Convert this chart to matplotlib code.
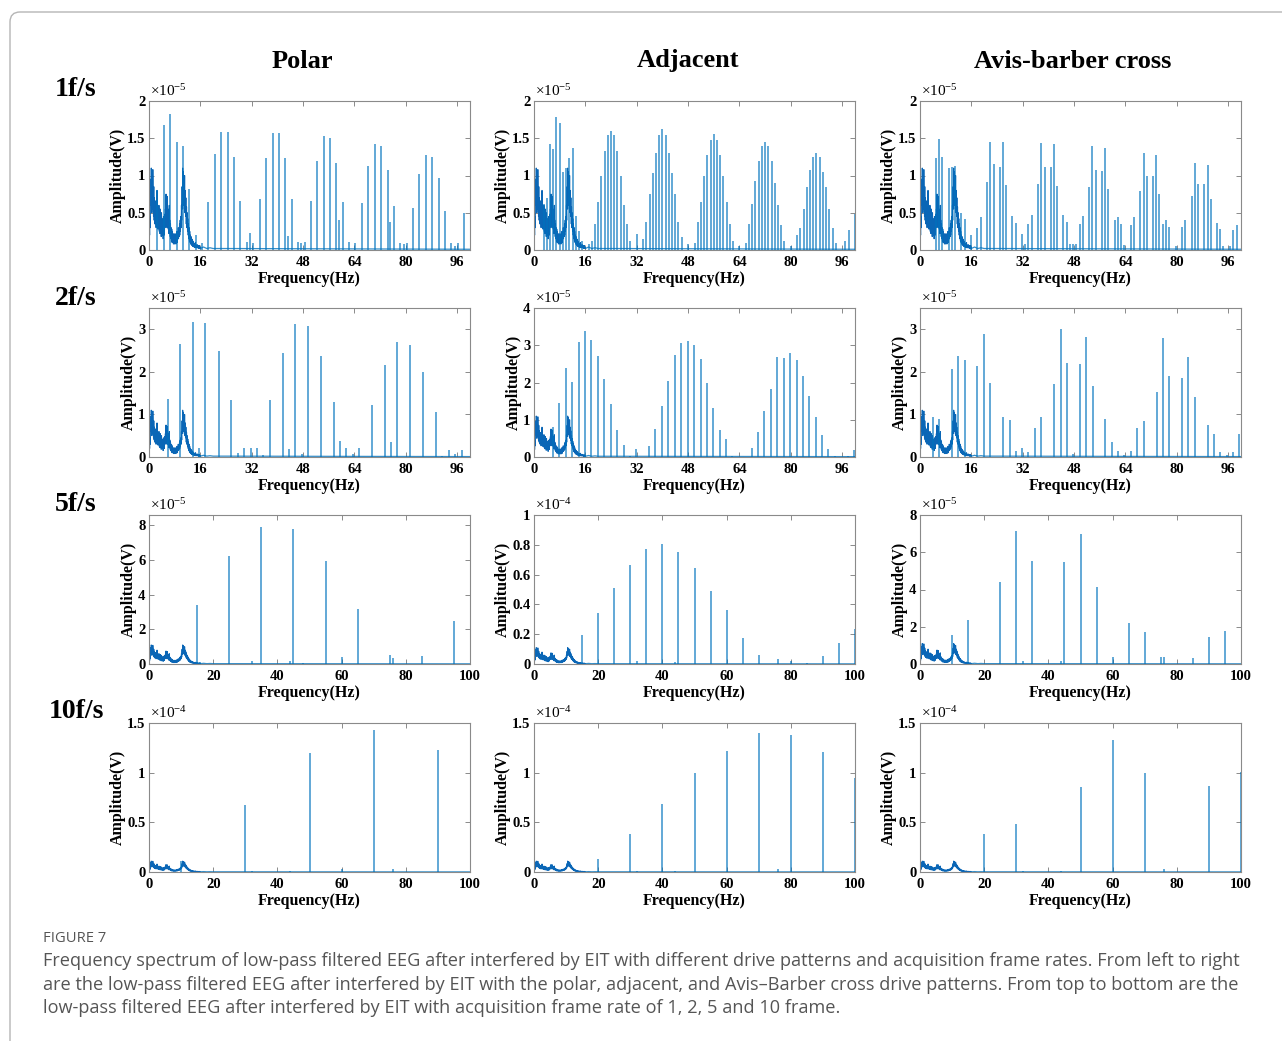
import numpy as np
import matplotlib
matplotlib.use("Agg")
import matplotlib.pyplot as plt
from matplotlib.patches import FancyBboxPatch
from matplotlib.transforms import IdentityTransform
from matplotlib.ticker import FuncFormatter

plt.rcParams['font.family'] = ['Liberation Serif', 'DejaVu Serif']
plt.rcParams['mathtext.fontset'] = 'custom'
plt.rcParams['mathtext.rm'] = 'Liberation Serif'
plt.rcParams['mathtext.it'] = 'Liberation Serif:italic'
plt.rcParams['mathtext.bf'] = 'Liberation Serif:bold'

# ---------------- data ----------------
col_titles = ["Polar", "Adjacent", "Avis-barber cross"]
row_titles = ["1f/s", "2f/s", "5f/s", "10f/s"]

# shared EEG background (units of 1e-5 V), sampled every 0.1 Hz from 0 to 16 Hz
eeg_base = [0.10,
            0.35, 0.20, 0.45, 0.30, 0.95, 0.60, 1.10, 0.75, 0.50, 0.95,
            0.55, 1.08, 0.70, 0.45, 0.85, 0.40, 0.70, 0.35, 0.62, 0.38,
            0.66, 0.30, 0.55, 0.42, 0.80, 0.35, 0.58, 0.28, 0.52, 0.30,
            0.60, 0.25, 0.48, 0.22, 0.55, 0.30, 0.45, 0.18, 0.50, 0.28,
            0.42, 0.20, 0.38, 0.15, 0.45, 0.25, 0.35, 0.20, 0.48, 0.30,
            0.55, 0.32, 0.75, 0.40, 0.62, 0.30, 0.72, 0.35, 0.55, 0.28,
            0.48, 0.22, 0.60, 0.25, 0.40, 0.18, 0.35, 0.15, 0.30, 0.12,
            0.28, 0.10, 0.25, 0.12, 0.22, 0.08, 0.20, 0.10, 0.18, 0.08,
            0.22, 0.10, 0.18, 0.08, 0.20, 0.12, 0.25, 0.10, 0.22, 0.15,
            0.30, 0.15, 0.28, 0.18, 0.35, 0.20, 0.40, 0.25, 0.45, 0.30,
            0.60, 0.40, 0.85, 0.55, 1.10, 0.70, 1.05, 0.60, 0.95, 0.55,
            1.00, 0.50, 0.80, 0.45, 0.70, 0.35, 0.58, 0.30, 0.50, 0.25,
            0.42, 0.20, 0.35, 0.15, 0.30, 0.12, 0.25, 0.10, 0.20, 0.08,
            0.18, 0.07, 0.15, 0.06, 0.14, 0.05, 0.12, 0.05, 0.10, 0.04,
            0.09, 0.04, 0.08, 0.03, 0.10, 0.04, 0.07, 0.03, 0.06, 0.03,
            0.07, 0.03, 0.06, 0.02, 0.05, 0.02, 0.06, 0.02, 0.04, 0.02]
eeg_step = 0.1
eeg_tail_f = [16.0, 17.0, 18.0, 19.0, 20.0, 24.0, 100.0]
eeg_tail_a = [0.02, 0.04, 0.02, 0.03, 0.02, 0.02, 0.01]

# 1 f/s (x1e-5)
polar_1_f = [2.6, 4.6, 6.6, 8.6, 10.6, 12.6, 14.6, 16.5, 18.5, 20.5, 22.5, 24.5, 26.5, 28.5,
             30.5, 31.5, 32.5, 34.5, 36.5, 38.5, 40.5, 42.5, 43.4, 44.5, 46.4, 47.5, 48.5,
             50.5, 52.4, 54.4, 56.4, 58.4, 59.3, 60.4, 62.4, 64.3, 66.4, 68.3, 70.3, 72.3,
             74.3, 75.2, 76.3, 78.2, 79.3, 80.3, 82.3, 84.2, 86.2, 88.2, 90.2, 92.2, 94.2,
             95.3, 96.2, 98.1]
polar_1_a = [0.80, 1.68, 1.82, 1.45, 1.40, 0.82, 0.20, 0.10, 0.64, 1.29, 1.59, 1.58, 1.25, 0.66,
             0.11, 0.23, 0.10, 0.69, 1.24, 1.57, 1.57, 1.23, 0.19, 0.69, 0.11, 0.09, 0.11,
             0.66, 1.20, 1.53, 1.51, 1.17, 0.40, 0.65, 0.11, 0.10, 0.63, 1.13, 1.42, 1.40,
             1.08, 0.37, 0.59, 0.10, 0.08, 0.10, 0.57, 1.02, 1.28, 1.25, 0.96, 0.52, 0.09,
             0.06, 0.09, 0.50]

adj_1_f = [3, 4, 5, 6, 7, 8, 9, 10, 11, 12, 13, 14, 15, 17, 18,
           19, 20, 21, 22, 23, 24, 25, 26, 27, 28, 29, 30, 32, 34,
           35, 36, 37, 38, 39, 40, 41, 42, 43, 44, 45, 46, 48, 50,
           51, 52, 53, 54, 55, 56, 57, 58, 59, 60, 61, 62, 64, 66,
           67, 68, 69, 70, 71, 72, 73, 74, 75, 76, 77, 78, 80, 82,
           83, 84, 85, 86, 87, 88, 89, 90, 91, 92, 93, 94, 97, 98, 100]
adj_1_a = [0.62, 0.70, 1.42, 1.36, 1.78, 1.70, 1.05, 1.10, 1.23, 1.37, 0.45, 0.25, 0.12, 0.08, 0.12,
           0.35, 0.64, 1.00, 1.33, 1.55, 1.60, 1.55, 1.33, 1.00, 0.60, 0.35, 0.12, 0.22, 0.15,
           0.38, 0.75, 1.03, 1.30, 1.55, 1.62, 1.55, 1.30, 1.03, 0.75, 0.38, 0.17, 0.08, 0.10,
           0.37, 0.65, 1.00, 1.28, 1.48, 1.56, 1.48, 1.28, 1.00, 0.64, 0.35, 0.12, 0.05, 0.10,
           0.35, 0.62, 0.93, 1.20, 1.40, 1.45, 1.40, 1.20, 0.90, 0.60, 0.33, 0.12, 0.05, 0.20,
           0.30, 0.55, 0.85, 1.08, 1.25, 1.30, 1.25, 1.05, 0.85, 0.55, 0.30, 0.10, 0.12, 0.27, 0.48]

avis_1_f = [5.0, 6.0, 6.9, 8.9, 9.9, 10.9, 12.9, 13.9, 15.9, 17.9, 18.9, 20.8, 21.9, 22.9,
            24.9, 25.8, 26.8, 28.8, 29.8, 31.8, 32.8, 33.8, 34.8, 36.7, 37.8, 38.8, 40.8,
            41.7, 42.7, 44.7, 45.7, 46.7, 47.7, 48.7, 49.7, 50.7, 52.6, 53.7, 54.7, 56.7,
            57.7, 58.7, 60.7, 61.6, 62.6, 63.7, 65.6, 66.7, 68.6, 69.7, 70.7, 72.7, 73.6,
            74.6, 75.6, 76.6, 77.6, 79.6, 81.6, 82.6, 84.6, 85.6, 86.6, 88.5, 89.6, 90.5,
            92.6, 93.5, 94.5, 96.5, 97.5, 98.6]
avis_1_a = [1.24, 1.49, 1.25, 1.10, 1.12, 1.13, 0.50, 0.42, 0.20, 0.30, 0.44, 0.91, 1.45, 1.15,
            1.11, 1.45, 0.87, 0.45, 0.36, 0.22, 0.08, 0.35, 0.47, 0.88, 1.44, 1.11, 1.11,
            1.42, 0.86, 0.47, 0.37, 0.08, 0.08, 0.08, 0.35, 0.45, 0.85, 1.39, 1.08, 1.06,
            1.37, 0.82, 0.40, 0.44, 0.35, 0.07, 0.34, 0.44, 0.79, 1.30, 1.00, 0.99, 1.27,
            0.75, 0.35, 0.40, 0.31, 0.05, 0.31, 0.40, 0.72, 1.17, 0.89, 0.88, 1.14, 0.68,
            0.36, 0.28, 0.06, 0.06, 0.27, 0.34]

# 2 f/s (x1e-5)
polar_2_f = [5.8, 9.8, 13.7, 15.6, 17.6, 21.7, 25.7, 27.7, 29.6, 31.7, 33.6, 35.6, 37.6, 41.6,
             43.5, 45.5, 47.6, 49.5, 53.6, 57.6, 59.5, 61.5, 63.5, 65.5, 69.5, 73.5, 75.4,
             77.4, 81.4, 85.4, 89.4, 91.4, 93.4, 95.4, 97.4]
polar_2_a = [1.36, 2.65, 3.17, 0.20, 3.15, 2.49, 1.34, 0.10, 0.21, 0.21, 0.21, 0.04, 1.35, 2.45,
             0.18, 3.12, 0.08, 3.08, 2.38, 1.29, 0.38, 0.21, 0.06, 0.21, 1.22, 2.17, 0.35,
             2.71, 2.63, 2.00, 1.05, 0.03, 0.16, 0.06, 0.16]

adj_2_f = [5.9, 7.9, 9.9, 11.9, 13.9, 15.9, 17.9, 19.9, 21.9, 23.9, 25.9, 27.9, 29.9, 31.9,
           35.9, 37.8, 39.8, 41.9, 43.8, 45.9, 47.9, 49.8, 51.9, 53.9, 55.8, 57.9, 59.9, 61.8,
           67.8, 69.8, 71.8, 73.8, 75.8, 77.8, 79.8, 81.8, 83.8, 85.8, 87.8, 89.8, 91.7, 93.8,
           97.7, 99.7]
adj_2_a = [0.80, 1.46, 2.38, 2.02, 3.10, 3.38, 3.15, 2.71, 2.09, 1.41, 0.72, 0.33, 0.03, 0.22,
           0.29, 0.76, 1.38, 2.04, 2.74, 3.07, 3.12, 3.02, 2.62, 2.00, 1.32, 0.72, 0.47, 0.04,
           0.24, 0.67, 1.23, 1.82, 2.68, 2.67, 2.78, 2.60, 2.18, 1.65, 1.08, 0.58, 0.22, 0.03,
           0.03, 0.18]

avis_2_f = [3.9, 5.9, 9.9, 11.9, 13.9, 17.9, 19.9, 21.9, 25.8, 27.9, 29.8, 31.8, 33.8, 35.8,
            37.8, 41.8, 43.8, 45.8, 47.8, 49.7, 51.8, 53.8, 57.7, 59.8, 61.7, 63.7, 65.7,
            67.7, 69.8, 73.7, 75.6, 77.6, 81.5, 83.6, 85.6, 89.6, 91.5, 93.5, 95.6, 97.5, 99.5]
avis_2_a = [0.93, 0.90, 2.07, 2.37, 2.29, 2.14, 2.89, 1.74, 0.94, 0.86, 0.13, 0.22, 0.12, 0.68,
            0.94, 1.71, 3.00, 2.20, 0.06, 2.18, 2.81, 1.67, 0.90, 0.35, 0.14, 0.05, 0.13,
            0.67, 0.85, 1.53, 2.79, 1.90, 1.86, 2.36, 1.40, 0.75, 0.55, 0.11, 0.05, 0.11, 0.53]

# 5 f/s
polar_5_f = [15, 16, 25, 32, 35, 44, 45, 48, 55, 60, 65, 75, 76, 85, 95]              # x1e-5
polar_5_a = [3.41, 0.13, 6.22, 0.19, 7.90, 0.15, 7.77, 0.05, 5.95, 0.38, 3.16, 0.50, 0.33, 0.48, 2.50]
adj_5_f = [15, 20, 25, 30, 32, 35, 40, 44, 45, 50, 55, 60, 65, 70, 76, 80, 85, 90, 95, 100]  # x1e-4
adj_5_a = [0.196, 0.34, 0.513, 0.663, 0.02, 0.77, 0.805, 0.012, 0.755, 0.643, 0.493, 0.36,
           0.174, 0.062, 0.033, 0.018, 0.008, 0.056, 0.14, 0.234]
avis_5_f = [10, 15, 25, 30, 32, 35, 44, 45, 50, 55, 60, 65, 70, 75, 76, 85, 90, 95]   # x1e-5
avis_5_a = [1.57, 2.34, 4.38, 7.16, 0.18, 5.54, 0.14, 5.46, 6.98, 4.16, 0.38, 2.20, 1.70,
            0.36, 0.36, 0.32, 1.45, 1.75]

# 10 f/s (x1e-4)
polar_10_f = [10, 30, 32, 44, 50, 60, 70, 76, 90]
polar_10_a = [0.11, 0.674, 0.012, 0.01, 1.20, 0.03, 1.425, 0.03, 1.233]
adj_10_f = [20, 30, 32, 40, 44, 50, 60, 70, 76, 80, 90, 100]
adj_10_a = [0.135, 0.378, 0.01, 0.68, 0.012, 1.00, 1.22, 1.40, 0.035, 1.38, 1.21, 0.95]
avis_10_f = [20, 30, 32, 44, 50, 60, 70, 76, 90, 100]
avis_10_a = [0.378, 0.48, 0.012, 0.01, 0.853, 1.33, 1.00, 0.03, 0.87, 1.01]

# axis settings per panel
xticks_16 = [0, 16, 32, 48, 64, 80, 96]
xticks_20 = [0, 20, 40, 60, 80, 100]
panel_exp = [[-5, -5, -5], [-5, -5, -5], [-5, -4, -5], [-4, -4, -4]]
panel_ylim = [[2, 2, 2], [3.5, 4, 3.5], [8.6, 1, 8], [1.5, 1.5, 1.5]]
panel_yticks = [
    [[0, 0.5, 1, 1.5, 2]] * 3,
    [[0, 1, 2, 3], [0, 1, 2, 3, 4], [0, 1, 2, 3]],
    [[0, 2, 4, 6, 8], [0, 0.2, 0.4, 0.6, 0.8, 1], [0, 2, 4, 6, 8]],
    [[0, 0.5, 1, 1.5]] * 3,
]
row_xticks = [xticks_16, xticks_16, xticks_20, xticks_20]

spikes = [
    [(polar_1_f, polar_1_a), (adj_1_f, adj_1_a), (avis_1_f, avis_1_a)],
    [(polar_2_f, polar_2_a), (adj_2_f, adj_2_a), (avis_2_f, avis_2_a)],
    [(polar_5_f, polar_5_a), (adj_5_f, adj_5_a), (avis_5_f, avis_5_a)],
    [(polar_10_f, polar_10_a), (adj_10_f, adj_10_a), (avis_10_f, avis_10_a)],
]

caption_head = "FIGURE 7"
caption_lines = [
    "Frequency spectrum of low-pass filtered EEG after interfered by EIT with different drive patterns and acquisition frame rates. From left to right",
    "are the low-pass filtered EEG after interfered by EIT with the polar, adjacent, and Avis\u2013Barber cross drive patterns. From top to bottom are the",
    "low-pass filtered EEG after interfered by EIT with acquisition frame rate of 1, 2, 5 and 10 frame.",
]

# ---------------- layout ----------------
W, H = 1282, 1041
fig = plt.figure(figsize=(W / 100, H / 100), dpi=100)
fig.patch.set_facecolor("white")

col_left = [149, 534, 920]
row_bottom = [250, 457, 664, 872]
ax_w, ax_h = 321, 149

line_col = "#0072BD"
edge_col = "#8a8a8a"

base_f = np.arange(len(eeg_base)) * eeg_step
base_a = np.array(eeg_base)

fmt = FuncFormatter(lambda v, p: ("%g" % v))

for r in range(4):
    for c in range(3):
        ax = fig.add_axes([col_left[c] / W, 1 - row_bottom[r] / H, ax_w / W, ax_h / H])
        e = panel_exp[r][c]
        scale = 10.0 ** (-5 - e)
        ax.plot(base_f, base_a * scale, color="#0a66b6", lw=0.75, zorder=2)
        ax.plot(eeg_tail_f, np.array(eeg_tail_a) * scale, color=line_col, lw=0.9, alpha=0.8, zorder=2)
        f, a = spikes[r][c]
        ax.vlines(f, 0, a, color=line_col, lw=1.2, alpha=0.72, zorder=3)
        ax.set_xlim(0, 100)
        ax.set_ylim(0, panel_ylim[r][c])
        ax.set_xticks(row_xticks[r])
        ax.set_yticks(panel_yticks[r][c])
        ax.yaxis.set_major_formatter(fmt)
        ax.tick_params(direction="in", length=3.5, width=0.7, color=edge_col,
                       top=True, right=True, labelsize=10.5, pad=2.5)
        ax.tick_params(axis="x", pad=4.5)
        for lab in ax.get_xticklabels() + ax.get_yticklabels():
            lab.set_fontweight("bold")
        for sp in ax.spines.values():
            sp.set_color(edge_col)
            sp.set_linewidth(0.8)
        ax.set_xlabel("Frequency(Hz)", fontsize=11.5, fontweight="bold", labelpad=1.5)
        ax.set_ylabel("Amplitude(V)", fontsize=11.5, fontweight="bold", labelpad=1)
        ax.text(0.003, 1.015, "\u00d710$^{%d}$" % e, transform=ax.transAxes,
                ha="left", va="bottom", fontsize=11)

col_title_x = [302, 688, 1073]
for c, t in enumerate(col_titles):
    fig.text(col_title_x[c] / W, 1 - 61 / H, t, ha="center", va="center",
             fontsize=19, fontweight="bold")

row_title_y = [90, 298, 504, 712]
for r, t in enumerate(row_titles):
    fig.text(76 / W, 1 - row_title_y[r] / H, t, ha="center", va="center",
             fontsize=20, fontweight="bold")

# caption
cap_font = ["Open Sans", "DejaVu Sans"]
fig.text(43 / W, 1 - 938 / H, caption_head, ha="left", va="center", fontsize=10.6,
         color="#555555", family=cap_font)
cap_y = [961, 985, 1008]
for y, t in zip(cap_y, caption_lines):
    fig.text(43 / W, 1 - y / H, t, ha="left", va="center", fontsize=13.05,
             color="#555555", family=cap_font)

# outer rounded frame
frame = FancyBboxPatch((10, -30), 1300, H - 12 + 30, boxstyle="round,pad=0,rounding_size=10",
                       transform=IdentityTransform(), fill=False, edgecolor="#b5b5b5", lw=1.0)
fig.add_artist(frame)

fig.savefig("out.png", dpi=100)
